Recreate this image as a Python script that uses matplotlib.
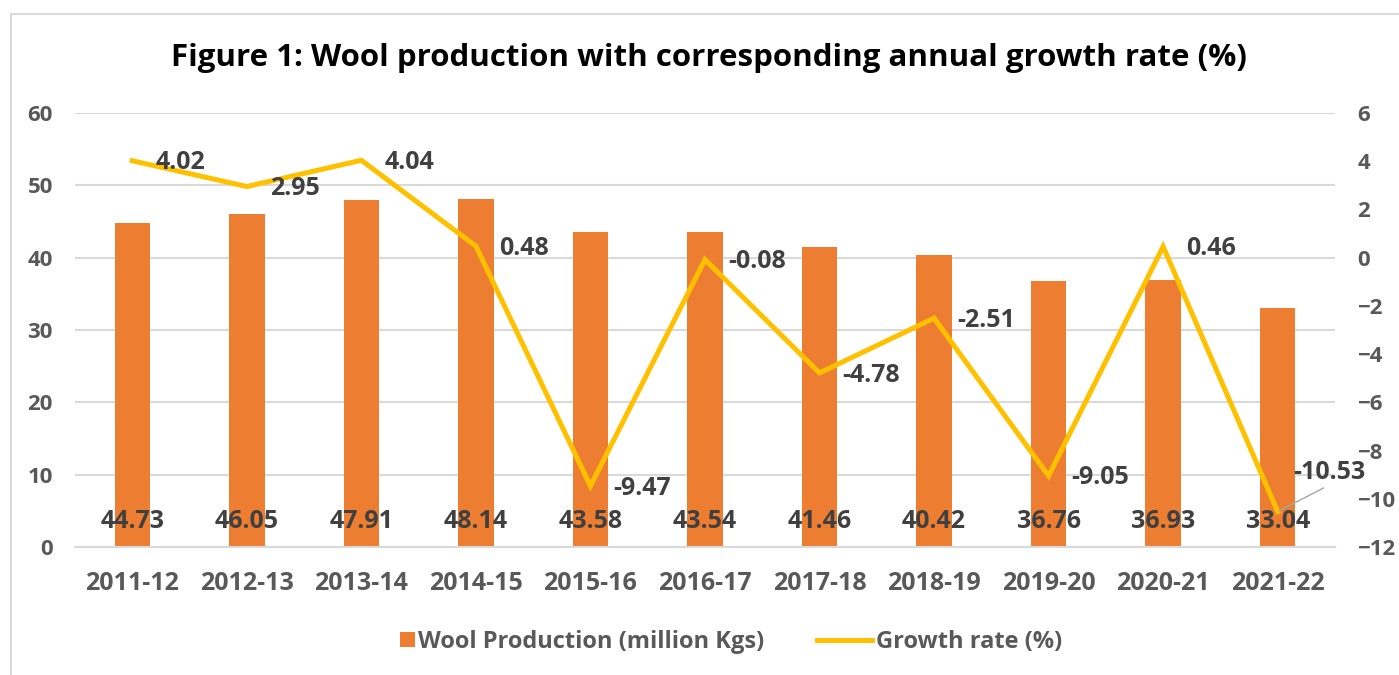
import numpy as np
import matplotlib.pyplot as plt
from matplotlib.patches import Rectangle
from matplotlib.legend_handler import HandlerPatch

# data
years = ["2011-12", "2012-13", "2013-14", "2014-15", "2015-16", "2016-17",
         "2017-18", "2018-19", "2019-20", "2020-21", "2021-22"]
wool = [44.73, 46.05, 47.91, 48.14, 43.58, 43.54, 41.46, 40.42, 36.76, 36.93, 33.04]
growth = [4.02, 2.95, 4.04, 0.48, -9.47, -0.08, -4.78, -2.51, -9.05, 0.46, -10.53]
series_names = ["Wool Production (million Kgs)", "Growth rate (%)"]

bar_color = "#ED7D31"
line_color = "#FFC000"
tick_color = "#595959"
label_color = "#404040"
grid_color = "#D9D9D9"

plt.rcParams['font.family'] = ['Open Sans', 'DejaVu Sans']
plt.rcParams['font.weight'] = 'bold'

fig = plt.figure(figsize=(13.99, 6.75), dpi=100)
ax = fig.add_axes([0.0536, 0.1896, 0.9006, 0.643])
ax2 = ax.twinx()

# chart border
fig.patches.append(Rectangle((11 / 1399, -0.01), 1.0, 1 - 14 / 675 + 0.01,
                             transform=fig.transFigure, fill=False,
                             edgecolor="#D9D9D9", linewidth=1.5))

x = np.arange(len(years))
bars = ax.bar(x, wool, width=0.31, color=bar_color, zorder=2)
line, = ax2.plot(x, growth, color=line_color, linewidth=3.6, zorder=3,
                 solid_joinstyle='miter')

ax.set_xlim(-0.5, len(years) - 0.5)
ax.set_ylim(0, 60)
ax.set_yticks(np.arange(0, 61, 10))
ax2.set_ylim(-12, 6)
ax2.set_yticks(np.arange(-12, 7, 2))

ax.grid(axis='y', color=grid_color, linewidth=1.5, zorder=0)
ax.set_axisbelow(True)
for a in (ax, ax2):
    for s in a.spines.values():
        s.set_visible(False)
ax.spines['bottom'].set_visible(True)
ax.spines['bottom'].set_color(grid_color)
ax.spines['bottom'].set_linewidth(1.5)

ax.set_xticks(x)
ax.set_xticklabels(years)
ax.tick_params(axis='x', length=0, pad=17, labelsize=18, labelcolor=tick_color)
ax.tick_params(axis='y', length=0, pad=16, labelsize=16, labelcolor=tick_color)
ax2.tick_params(axis='y', length=0, pad=16, labelsize=16, labelcolor=tick_color)

# bar labels (inside base)
for xi, v in zip(x, wool):
    ax.annotate(f"{v:.2f}", xy=(xi, 0), xytext=(0, 18.7), textcoords='offset points',
                ha='center', va='center', fontsize=18, color=label_color,
                fontweight='bold', zorder=5)

# line labels (right)
for xi, g in zip(x[:-1], growth[:-1]):
    ax2.annotate(f"{g:.2f}", xy=(xi, g), xytext=(16.5, -1.5), textcoords='offset points',
                 ha='left', va='center', fontsize=18, color=label_color,
                 fontweight='bold', zorder=5)
ax2.annotate(f"{growth[-1]:.2f}", xy=(x[-1], growth[-1]), xytext=(37, 28),
             textcoords='offset points', ha='center', va='center', fontsize=18,
             color=label_color, fontweight='bold', zorder=5,
             arrowprops=dict(arrowstyle='-', color='#A6A6A6', linewidth=1,
                             shrinkA=0, shrinkB=1,
                             relpos=(0.5, 0.0)))

fig.text(0.5064, 0.914, "Figure 1: Wool production with corresponding annual growth rate (%)",
         ha='center', va='center', fontsize=22.5, fontweight='bold', color='black')


def square_patch(legend, orig_handle, xdescent, ydescent, width, height, fontsize):
    s = height * 0.9
    return Rectangle((-xdescent + width - s, -ydescent + (height - s) / 2), s, s)


bar_handle = bars.patches[0]
fig.legend(handles=[bar_handle, line], labels=series_names, loc='center',
           bbox_to_anchor=(0.508, 0.049),
           ncol=2, frameon=False, fontsize=17, labelcolor=tick_color,
           handlelength=2.35, handleheight=0.7, columnspacing=2.2, handletextpad=0.15,
           handler_map={bar_handle: HandlerPatch(patch_func=square_patch)})

fig.savefig("out.png", dpi=100)
